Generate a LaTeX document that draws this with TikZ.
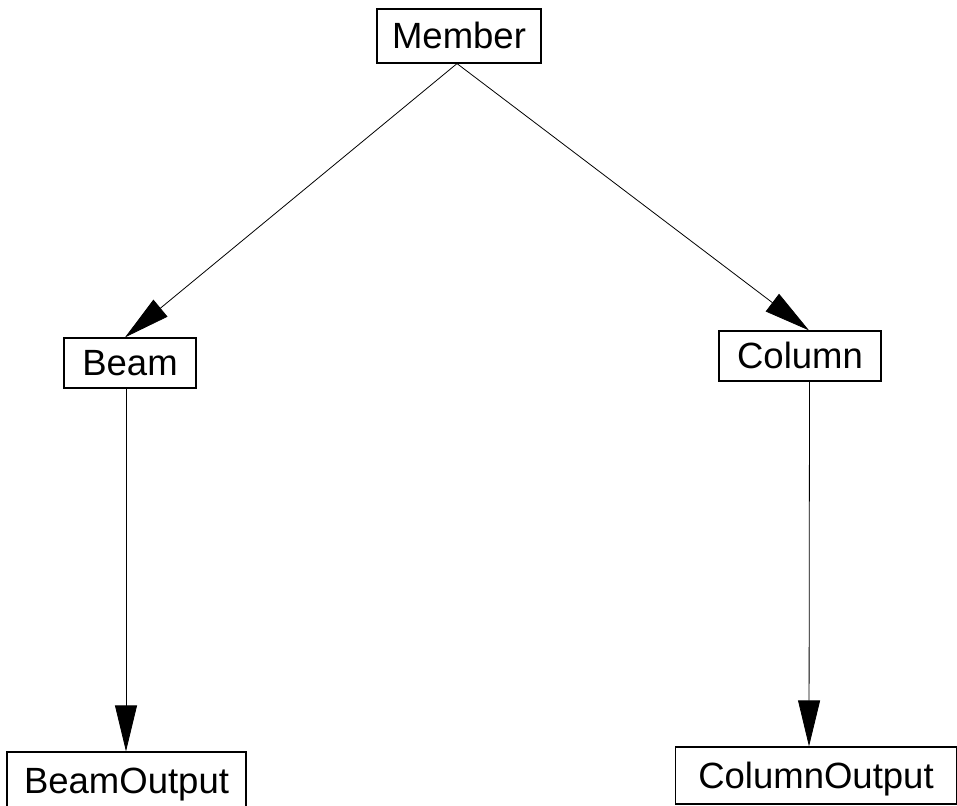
\documentclass[tikz,border=0pt]{standalone}
\usepackage{fontspec}
\setmainfont{Liberation Sans}
\usetikzlibrary{arrows.meta}
\begin{document}
\begin{tikzpicture}[x=1pt,y=1pt,
  classbox/.style={draw, line width=1.2pt, inner sep=0pt, font=\fontsize{36.5}{42}\selectfont,
    text height=26pt, text depth=0pt},
  link/.style={line width=0.8pt, -{Triangle[length=46pt,width=22pt]}}]
  \useasboundingbox (0,0) rectangle (957,805);
  \node[classbox, minimum width=164pt, minimum height=54pt] (member) at (459,769) {Member};
  \node[classbox, minimum width=132pt, minimum height=50pt] (beam) at (130,442) {Beam};
  \node[classbox, minimum width=162pt, minimum height=50pt] (column) at (800,449) {Column};
  \node[classbox, minimum width=239pt, minimum height=56pt] (beamout) at (126.5,25) {BeamOutput};
  \node[classbox, minimum width=281pt, minimum height=57pt] (colout) at (816,29.5) {ColumnOutput};
  \draw[link] ([xshift=-2pt]member.south) -- ([xshift=-5pt]beam.north);
  \draw[link] ([xshift=-2pt]member.south) -- ([xshift=9pt]column.north);
  \draw[link] ([xshift=-4pt]beam.south) -- ([xshift=-0.5pt]beamout.north);
  \draw[link] ([xshift=9.5pt]column.south) -- ([xshift=-7pt]colout.north);
\end{tikzpicture}
\end{document}
